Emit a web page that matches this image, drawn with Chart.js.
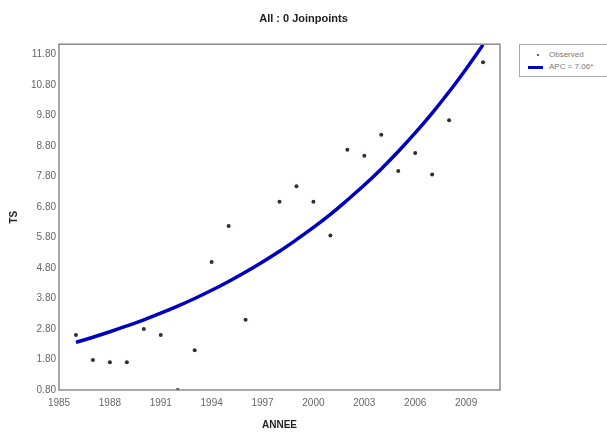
<!DOCTYPE html>
<html>
<head>
<meta charset="utf-8">
<script src="https://cdn.jsdelivr.net/npm/chart.js@4/dist/chart.umd.min.js"></script>
<style>
  html, body { margin: 0; padding: 0; background: #fff; }
  #wrap { position: relative; width: 607px; height: 432px; }
  #legend {
    position: absolute; left: 519px; top: 44px; width: 92px; height: 31px;
    border: 1px solid #aaa; background: #fff;
    font-family: "Liberation Sans", Arial, sans-serif; font-size: 8px; color: #777;
  }
  .row { position: absolute; left: 0; height: 10px; line-height: 10px; white-space: nowrap; }
  .row span.t { position: absolute; left: 29px; top: 0; }
  .dot { position: absolute; left: 17px; top: 4px; width: 2px; height: 2px; background: #3b2b2b; border-radius: 1px; }
  .ln { position: absolute; left: 8px; top: 4px; width: 15px; height: 3px; background: #0000c0; }
</style>
</head>
<body>
<div id="wrap">
  <canvas id="c" width="607" height="432"></canvas>
  <div id="legend">
    <div class="row" style="top:5px"><div class="dot"></div><span class="t">Observed</span></div>
    <div class="row" style="top:17px"><div class="ln"></div><span class="t">APC = 7.06*</span></div>
  </div>
</div>
<script>
// Observed values (1997 absent)
const obsYears = [1986,1987,1988,1989,1990,1991,1992,1993,1994,1995,1996,1998,1999,2000,2001,2002,2003,2004,2005,2006,2007,2008,2010];
const obsValues = [2.60,1.78,1.71,1.71,2.80,2.60,0.80,2.10,5.00,6.18,3.10,6.97,7.48,6.97,5.87,8.68,8.48,9.17,7.98,8.57,7.87,9.65,11.55];

// Fitted (modelled) values
const fitYears = [1986,1987,1988,1989,1990,1991,1992,1993,1994,1995,1996,1997,1998,1999,2000,2001,2002,2003,2004,2005,2006,2007,2008,2009,2010];
const fitValues = [2.36,2.53,2.71,2.90,3.10,3.32,3.55,3.80,4.07,4.36,4.67,5.00,5.35,5.73,6.13,6.56,7.03,7.52,8.05,8.62,9.23,9.88,10.58,11.33,12.12];

const xTicks = [1985,1988,1991,1994,1997,2000,2003,2006,2009];
const yTicks = [0.8,1.8,2.8,3.8,4.8,5.8,6.8,7.8,8.8,9.8,10.8,11.8];

const tickFont = { family: "'Liberation Sans', Arial, sans-serif", size: 10 };
const titleFont = { family: "'Liberation Sans', Arial, sans-serif", size: 10, weight: 'bold' };

const frame = {
  id: 'frame',
  afterDatasetsDraw(chart) {
    const { ctx, chartArea: a } = chart;
    ctx.save();
    ctx.strokeStyle = '#8a8a8a';
    ctx.lineWidth = 1.5;
    ctx.strokeRect(a.left, a.top, a.right - a.left, a.bottom - a.top);
    ctx.restore();
  }
};

new Chart(document.getElementById('c'), {
  type: 'scatter',
  data: {
    datasets: [
      {
        label: 'Observed',
        data: obsYears.map((x, i) => ({ x, y: obsValues[i] })),
        pointRadius: 2,
        pointBackgroundColor: '#3b2b2b',
        pointBorderWidth: 0,
        showLine: false,
        order: 1
      },
      {
        label: 'APC = 7.06*',
        data: fitYears.map((x, i) => ({ x, y: fitValues[i] })),
        showLine: true,
        borderColor: '#0000c0',
        borderWidth: 3.5,
        pointRadius: 0,
        tension: 0.4,
        order: 2
      }
    ]
  },
  options: {
    responsive: false,
    animation: false,
    devicePixelRatio: 1,
    layout: { padding: 0 },
    plugins: {
      legend: { display: false },
      tooltip: { enabled: false },
      title: {
        display: true,
        text: 'All : 0 Joinpoints',
        color: '#222',
        font: { family: "'Liberation Sans', Arial, sans-serif", size: 11, weight: 'bold' },
        padding: { top: 12, bottom: 19 }
      }
    },
    scales: {
      x: {
        type: 'linear',
        min: 1985,
        max: 2011,
        afterBuildTicks: s => { s.ticks = xTicks.map(v => ({ value: v })); },
        afterFit: s => { s.height = 42; },
        grid: { display: false, drawTicks: false },
        border: { display: false },
        ticks: { color: '#666', font: tickFont, padding: 7, maxRotation: 0, autoSkip: false, callback: v => String(v) },
        title: { display: true, text: 'ANNEE', color: '#222', font: titleFont, padding: { top: 0, bottom: 1 } }
      },
      y: {
        type: 'linear',
        min: 0.8,
        max: 12.14,
        afterBuildTicks: s => { s.ticks = yTicks.map(v => ({ value: v })); },
        afterFit: s => { s.width = 59; },
        grid: { display: false, drawTicks: false },
        border: { display: false },
        ticks: { color: '#666', font: tickFont, padding: 3, callback: v => Number(v).toFixed(2) },
        title: { display: true, text: 'TS', color: '#222', font: titleFont, padding: { top: 8, bottom: 0 } }
      },
      yR: {
        type: 'linear',
        position: 'right',
        display: true,
        afterFit: s => { s.width = 107; },
        grid: { display: false, drawTicks: false },
        border: { display: false },
        ticks: { display: false }
      }
    }
  },
  plugins: [frame]
});
</script>
</body>
</html>
